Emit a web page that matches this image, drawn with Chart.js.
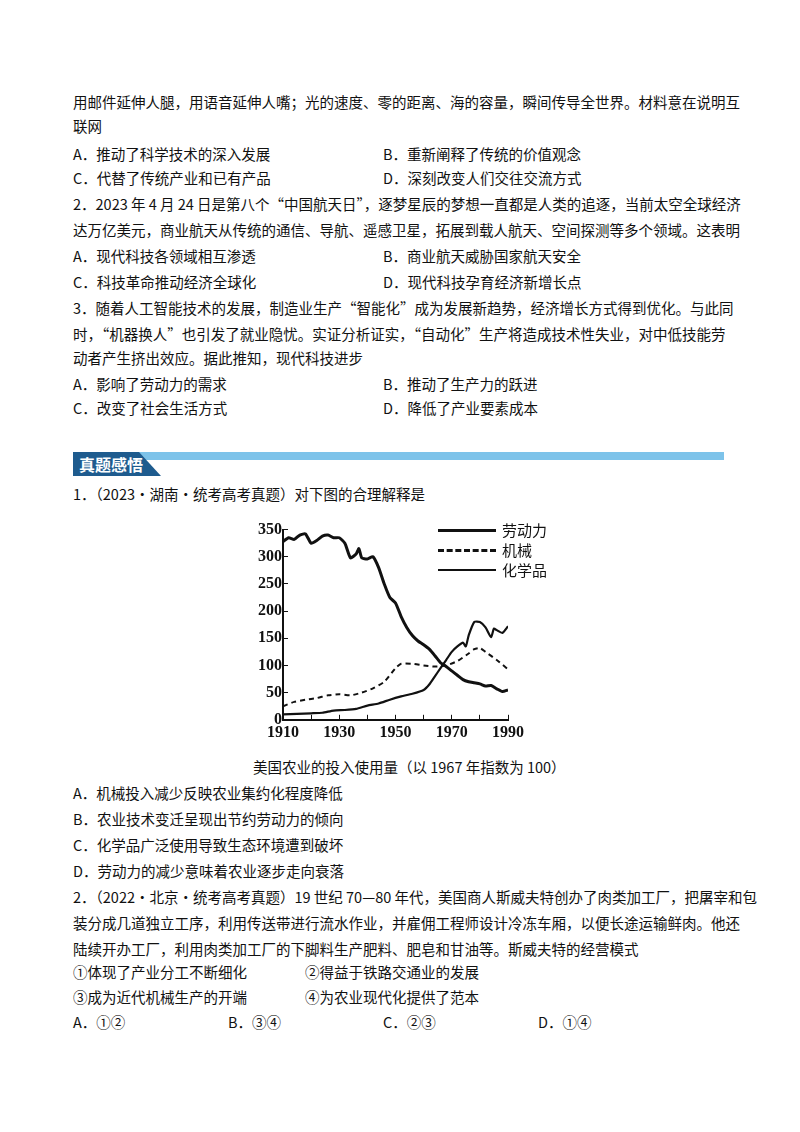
<!DOCTYPE html>
<html><head><meta charset="utf-8">
<script src="https://cdn.jsdelivr.net/npm/chart.js@4/dist/chart.umd.min.js"></script>
<style>
body{margin:0;width:800px;height:1132px;background:#fff;position:relative;font-family:"Noto Sans CJK SC",sans-serif;color:#111;font-size:14.5px}
.l{position:absolute;white-space:nowrap;line-height:20px}
#bar{position:absolute;left:100px;top:452px;width:624px;height:8px;background:#7dc3ea}
#tag{position:absolute;left:73px;top:452px;width:88px;height:24px;background:#1e5b8e;color:#fff;font-weight:bold;font-size:16px;line-height:24px;padding-left:6px;box-sizing:border-box;clip-path:polygon(0 0,75% 0,100% 100%,0 100%)}
#wrap{position:absolute;left:252px;top:514px;width:280px;height:236px}
#legend{position:absolute;left:438px;top:520px;font-size:15px;line-height:20px}
#legend div{display:flex;align-items:center}
#legend span.s{display:inline-block;width:58px;margin-right:6px;border-top:3px solid #111}
</style></head><body>
<div class="l" style="left:73px;top:92px">用邮件延伸人腿，用语音延伸人嘴；光的速度、零的距离、海的容量，瞬间传导全世界。材料意在说明互</div>
<div class="l" style="left:73px;top:116px">联网</div>
<div class="l" style="left:73px;top:144px">A．推动了科学技术的深入发展</div>
<div class="l" style="left:383px;top:144px">B．重新阐释了传统的价值观念</div>
<div class="l" style="left:73px;top:168px">C．代替了传统产业和已有产品</div>
<div class="l" style="left:383px;top:168px">D．深刻改变人们交往交流方式</div>
<div class="l" style="left:73px;top:194px">2．2023 年 4 月 24 日是第八个“中国航天日”，逐梦星辰的梦想一直都是人类的追逐，当前太空全球经济</div>
<div class="l" style="left:73px;top:220px">达万亿美元，商业航天从传统的通信、导航、遥感卫星，拓展到载人航天、空间探测等多个领域。这表明</div>
<div class="l" style="left:73px;top:246px">A．现代科技各领域相互渗透</div>
<div class="l" style="left:383px;top:246px">B．商业航天威胁国家航天安全</div>
<div class="l" style="left:73px;top:272px">C．科技革命推动经济全球化</div>
<div class="l" style="left:383px;top:272px">D．现代科技孕育经济新增长点</div>
<div class="l" style="left:73px;top:298px">3．随着人工智能技术的发展，制造业生产“智能化”成为发展新趋势，经济增长方式得到优化。与此同</div>
<div class="l" style="left:73px;top:324px">时，“机器换人”也引发了就业隐忧。实证分析证实，“自动化”生产将造成技术性失业，对中低技能劳</div>
<div class="l" style="left:73px;top:348px">动者产生挤出效应。据此推知，现代科技进步</div>
<div class="l" style="left:73px;top:374px">A．影响了劳动力的需求</div>
<div class="l" style="left:383px;top:374px">B．推动了生产力的跃进</div>
<div class="l" style="left:73px;top:398px">C．改变了社会生活方式</div>
<div class="l" style="left:383px;top:398px">D．降低了产业要素成本</div>
<div id="bar"></div><div id="tag">真题感悟</div>
<div class="l" style="left:73px;top:484px">1．（2023·湖南·统考高考真题）对下图的合理解释是</div>
<div id="wrap"><canvas id="c"></canvas></div>
<div id="legend">
<div><span class="s"></span>劳动力</div>
<div><span class="s" style="border-top:3px dashed #111"></span>机械</div>
<div><span class="s" style="border-top-width:2px"></span>化学品</div>
</div>
<div class="l" style="left:253px;top:757px">美国农业的投入使用量（以 1967 年指数为 100）</div>
<div class="l" style="left:73px;top:783px">A．机械投入减少反映农业集约化程度降低</div>
<div class="l" style="left:73px;top:809px">B．农业技术变迁呈现出节约劳动力的倾向</div>
<div class="l" style="left:73px;top:835px">C．化学品广泛使用导致生态环境遭到破坏</div>
<div class="l" style="left:73px;top:861px">D．劳动力的减少意味着农业逐步走向衰落</div>
<div class="l" style="left:73px;top:887px">2．（2022·北京·统考高考真题）19 世纪 70—80 年代，美国商人斯威夫特创办了肉类加工厂，把屠宰和包</div>
<div class="l" style="left:73px;top:913px">装分成几道独立工序，利用传送带进行流水作业，并雇佣工程师设计冷冻车厢，以便长途运输鲜肉。他还</div>
<div class="l" style="left:73px;top:939px">陆续开办工厂，利用肉类加工厂的下脚料生产肥料、肥皂和甘油等。斯威夫特的经营模式</div>
<div class="l" style="left:73px;top:962px">①体现了产业分工不断细化</div>
<div class="l" style="left:305px;top:962px">②得益于铁路交通业的发展</div>
<div class="l" style="left:73px;top:987px">③成为近代机械生产的开端</div>
<div class="l" style="left:305px;top:987px">④为农业现代化提供了范本</div>
<div class="l" style="left:73px;top:1012px">A．①②</div>
<div class="l" style="left:228px;top:1012px">B．③④</div>
<div class="l" style="left:383px;top:1012px">C．②③</div>
<div class="l" style="left:538px;top:1012px">D．①④</div>
<script>
const laborYears = [1910,1912,1914,1916,1918,1920,1922,1924,1926,1928,1930,1932,1934,1936,1937,1938,1940,1942,1944,1946,1948,1950,1952,1954,1956,1958,1960,1962,1964,1966,1968,1970,1972,1974,1976,1978,1980,1982,1984,1986,1988,1990];
const laborValues = [328,335,332,340,342,325,330,338,340,335,335,325,298,305,315,298,296,300,280,250,225,215,190,170,155,145,138,130,118,105,98,90,82,74,70,68,66,62,63,57,52,55];
const machYears = [1910,1914,1918,1922,1926,1930,1934,1938,1942,1946,1950,1952,1956,1960,1964,1968,1972,1976,1978,1980,1982,1986,1990];
const machValues = [25,33,37,40,45,47,45,50,58,70,95,103,103,100,98,100,108,122,130,132,125,110,93];
const chemYears = [1910,1920,1924,1928,1932,1936,1940,1944,1948,1952,1956,1960,1962,1964,1966,1968,1970,1972,1974,1975,1976,1978,1980,1982,1984,1985,1986,1988,1990];
const chemValues = [10,12,13,17,18,20,26,30,37,43,48,55,65,80,95,110,125,135,142,135,155,180,180,170,152,168,165,160,172];
const yTicks = [0,50,100,150,200,250,300,350];

const pts = (xs, ys) => xs.map((x, i) => ({ x, y: ys[i] }));
const font = { family: '"Liberation Serif", serif', size: 16, weight: 'bold' };

new Chart(document.getElementById('c'), {
    type: 'line',
    data: {
        datasets: [
            { label: '劳动力', data: pts(laborYears, laborValues), borderColor: '#111', borderWidth: 3 },
            { label: '机械', data: pts(machYears, machValues), borderColor: '#111', borderWidth: 2, borderDash: [5, 4] },
            { label: '化学品', data: pts(chemYears, chemValues), borderColor: '#111', borderWidth: 2.2 },
        ],
    },
    options: {
        responsive: true, maintainAspectRatio: false, animation: false,
        layout: { padding: { right: 18, top: 4 } },
        elements: { point: { radius: 0 }, line: { tension: 0.2 } },
        plugins: { legend: { display: false }, tooltip: { enabled: false } },
        scales: {
            x: {
                type: 'linear', min: 1910, max: 1990,
                grid: { drawOnChartArea: false, tickLength: -5, color: '#111' },
                border: { color: '#111', width: 2 },
                ticks: { stepSize: 10, color: '#111', font, padding: 8, maxRotation: 0, autoSkip: false,
                    callback: (v) => (v - 1910) % 20 === 0 ? String(v) : '' },
            },
            y: {
                min: 0, max: 350,
                afterBuildTicks: (s) => { s.ticks = yTicks.map((v) => ({ value: v })); },
                grid: { drawOnChartArea: false, tickLength: -5, color: '#111' },
                border: { color: '#111', width: 2 },
                ticks: { color: '#111', font, padding: 6 },
            },
        },
    },
});
</script>
</body></html>
